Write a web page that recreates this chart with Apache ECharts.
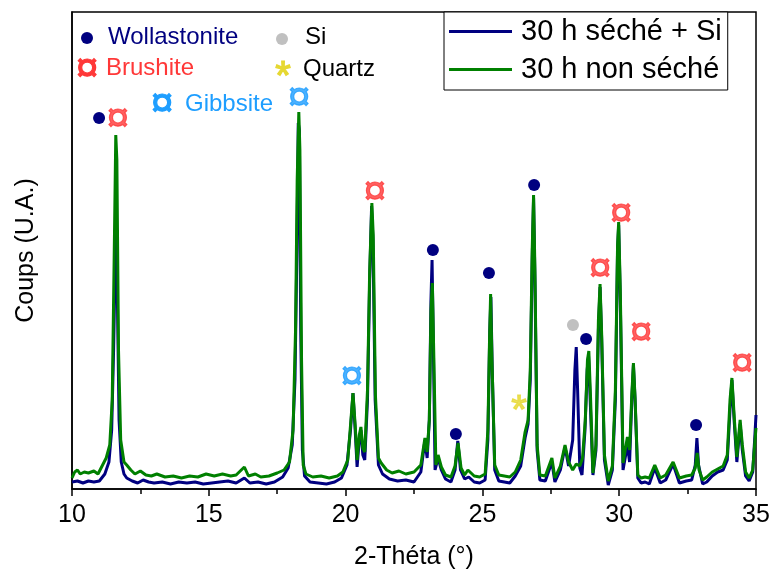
<!DOCTYPE html>
<html>
<head>
<meta charset="utf-8">
<script src="https://cdn.jsdelivr.net/npm/echarts@6/dist/echarts.min.js"></script>
<style>html,body{margin:0;padding:0;background:#fff}#c{width:773px;height:576px}</style>
</head>
<body>
<div id="c"></div>
<script>
// 2-Theta (deg), intensity (arbitrary units)
const seche = [
[10.0,7],[10.2,8],[10.4,6],[10.6,8],[10.8,7],[11.0,8],[11.2,15],[11.35,27],[11.45,59],[11.52,139],[11.58,229],[11.62,264],[11.66,189],[11.72,69],[11.8,27],[11.9,15],[12.0,11],[12.2,8],[12.4,6],[12.6,9],[12.8,7],[13.0,6],[13.3,7],[13.6,5],[13.9,7],[14.2,6],[14.5,7],[14.8,5],[15.1,6],[15.4,7],[15.7,8],[16.0,6],[16.3,11],[16.5,6],[16.8,7],[17.1,5],[17.4,7],[17.7,12],[17.9,21],[18.05,44],[18.15,109],[18.22,239],[18.27,366],[18.31,359],[18.36,159],[18.42,39],[18.5,13],[18.7,7],[19.0,6],[19.3,5],[19.6,7],[19.85,11],[20.05,24],[20.18,59],[20.27,96],[20.35,59],[20.42,22],[20.5,49],[20.56,59],[20.63,34],[20.7,29],[20.8,89],[20.88,209],[20.95,283],[21.0,249],[21.08,89],[21.2,24],[21.35,15],[21.6,10],[21.9,8],[22.2,9],[22.5,7],[22.75,17],[22.9,49],[22.98,31],[23.06,69],[23.12,189],[23.16,229],[23.2,159],[23.27,19],[23.38,31],[23.5,19],[23.65,10],[23.85,7],[24.0,19],[24.1,48],[24.2,19],[24.35,10],[24.5,12],[24.7,7],[24.9,6],[25.1,9],[25.2,49],[25.27,159],[25.31,192],[25.36,119],[25.45,19],[25.6,8],[25.8,7],[26.0,6],[26.2,13],[26.4,23],[26.56,51],[26.67,65],[26.75,109],[26.82,229],[26.87,291],[26.92,209],[27.0,39],[27.1,9],[27.3,8],[27.54,27],[27.65,7],[27.85,19],[28.02,42],[28.15,23],[28.3,49],[28.38,119],[28.43,142],[28.48,99],[28.56,21],[28.64,14],[28.75,59],[28.83,119],[28.88,133],[28.94,89],[29.04,14],[29.15,39],[29.24,159],[29.3,202],[29.36,149],[29.46,29],[29.6,4],[29.75,19],[29.86,89],[29.94,239],[29.98,264],[30.04,189],[30.14,19],[30.3,44],[30.38,27],[30.46,89],[30.52,124],[30.58,89],[30.68,11],[30.8,6],[30.95,7],[31.1,5],[31.3,21],[31.5,6],[31.7,9],[31.97,25],[32.2,6],[32.45,8],[32.65,9],[32.78,24],[32.84,51],[32.9,24],[33.05,5],[33.2,7],[33.4,13],[33.6,17],[33.8,19],[33.95,29],[34.05,79],[34.12,109],[34.2,69],[34.3,27],[34.42,65],[34.5,39],[34.62,13],[34.75,8],[34.88,17],[34.95,49],[35.0,74]
];
const nonSeche = [
[10.0,11],[10.1,17],[10.2,19],[10.3,15],[10.45,17],[10.6,16],[10.8,18],[10.95,15],[11.1,23],[11.25,31],[11.38,44],[11.47,89],[11.54,229],[11.6,354],[11.64,329],[11.7,139],[11.78,49],[11.9,27],[12.0,24],[12.15,19],[12.3,15],[12.5,18],[12.7,14],[12.9,13],[13.1,15],[13.4,12],[13.7,13],[14.0,11],[14.3,13],[14.6,12],[14.9,15],[15.2,13],[15.5,15],[15.8,13],[16.0,14],[16.3,22],[16.45,13],[16.7,15],[16.9,12],[17.2,13],[17.5,16],[17.75,19],[17.95,27],[18.08,59],[18.17,159],[18.23,309],[18.29,377],[18.33,339],[18.39,129],[18.45,24],[18.55,15],[18.8,12],[19.1,13],[19.4,11],[19.7,13],[19.9,17],[20.08,29],[20.18,64],[20.27,96],[20.35,64],[20.42,29],[20.5,54],[20.56,62],[20.63,41],[20.7,37],[20.8,99],[20.88,219],[20.96,286],[21.01,254],[21.09,94],[21.2,31],[21.3,26],[21.5,19],[21.7,16],[21.95,18],[22.2,15],[22.5,17],[22.75,24],[22.9,51],[22.98,37],[23.06,69],[23.12,179],[23.17,206],[23.22,139],[23.3,24],[23.38,34],[23.5,22],[23.65,14],[23.85,12],[24.0,23],[24.11,46],[24.22,21],[24.35,14],[24.47,19],[24.7,13],[24.9,12],[25.1,15],[25.2,59],[25.26,149],[25.3,195],[25.35,129],[25.45,24],[25.6,14],[25.8,13],[26.0,12],[26.2,17],[26.4,29],[26.56,57],[26.67,69],[26.75,119],[26.82,239],[26.87,294],[26.92,219],[27.0,44],[27.1,14],[27.3,13],[27.54,31],[27.65,11],[27.85,23],[28.02,44],[28.15,27],[28.3,19],[28.43,25],[28.56,23],[28.66,31],[28.76,69],[28.84,129],[28.89,138],[28.95,94],[29.04,16],[29.15,44],[29.24,169],[29.3,205],[29.36,154],[29.46,34],[29.6,8],[29.75,23],[29.86,99],[29.94,244],[29.98,267],[30.04,199],[30.14,26],[30.3,52],[30.38,39],[30.46,94],[30.52,126],[30.58,91],[30.68,14],[30.8,11],[30.95,12],[31.1,11],[31.3,24],[31.5,11],[31.7,14],[31.97,27],[32.2,11],[32.45,13],[32.65,14],[32.78,21],[32.85,36],[32.92,19],[33.05,9],[33.2,12],[33.4,17],[33.6,20],[33.8,23],[33.95,34],[34.05,89],[34.12,111],[34.2,74],[34.3,32],[34.42,69],[34.5,44],[34.62,17],[34.75,11],[34.88,19],[34.95,44],[35.0,61]
];
// phase markers (2-Theta, height where drawn)
const wollastonite = [[10.99,371],[23.19,239],[24.03,55],[25.24,216],[26.89,304],[28.79,150],[32.81,64]];
const brushite = [[11.68,371],[21.07,298],[29.3,221],[30.07,276],[30.8,157],[34.49,126]];
const gibbsite = [[18.3,392],[20.23,113]];
const silicium = [[28.31,164]];
const quartz = [[26.34,86]];
const seriesNames = ['30 h séché + Si', '30 h non séché'];
const xTicks = [10, 15, 20, 25, 30, 35];

const FONT = 'Liberation Sans, Arial, sans-serif';
const NAVY = '#000080', GREEN = '#008000', RED = '#FF3838', BLUE = '#1E9EFF', GRAY = '#C0C0C0', YEL = '#E6D832';
const CUR = 40, STAR = 40;

function textMarks(name, data, ch, color, size, dy) {
  return {
    name: name, type: 'scatter', data: data, symbolSize: 1, silent: true,
    itemStyle: {color: 'rgba(0,0,0,0)'}, z: 5,
    label: {show: true, position: 'inside', formatter: ch, color: color,
      textBorderColor: color, textBorderWidth: 1.2,
      fontSize: size, fontWeight: 'normal', fontFamily: FONT, offset: [0, dy || 0]}
  };
}
function keyGlyph(x, y, ch, color, size) {
  return {type: 'text', x: x, y: y, style: {text: ch, fill: color, stroke: color, lineWidth: 1.2,
    font: size + 'px ' + FONT, align: 'center', verticalAlign: 'middle'}};
}

const chart = echarts.init(document.getElementById('c'));
chart.setOption({
  animation: false,
  grid: {left: 72, right: 17, top: 12, bottom: 87, show: true, borderColor: '#000', borderWidth: 1.5},
  xAxis: {
    type: 'value', min: xTicks[0], max: xTicks[xTicks.length-1], interval: 5,
    axisLine: {show: true, lineStyle: {color: '#000', width: 1.5}},
    axisTick: {show: true, length: 7, lineStyle: {color: '#000', width: 1.5}},
    minorTick: {show: true, splitNumber: 2, length: 5, lineStyle: {color: '#000', width: 1.5}},
    splitLine: {show: false},
    axisLabel: {color: '#000', fontSize: 25, fontFamily: FONT, margin: 14},
    name: '2-Théta (°)', nameLocation: 'middle', nameGap: 56,
    nameTextStyle: {color: '#000', fontSize: 25, fontFamily: FONT}
  },
  yAxis: {
    type: 'value', min: 0, max: 477,
    axisLine: {show: true, lineStyle: {color: '#000', width: 1.5}},
    axisTick: {show: false}, axisLabel: {show: false}, splitLine: {show: false},
    name: 'Coups (U.A.)', nameLocation: 'middle', nameGap: 33,
    nameTextStyle: {color: '#000', fontSize: 25, fontFamily: FONT}
  },
  legend: {
    data: seriesNames, orient: 'vertical', left: 444, top: 12,
    backgroundColor: '#fff', borderColor: '#000', borderWidth: 1,
    padding: [5, 6, 6, 5], itemGap: 9, itemWidth: 63, itemHeight: 3, icon: 'rect',
    textStyle: {color: '#000', fontSize: 29, fontFamily: FONT, padding: [0, 0, 0, 4]}
  },
  series: [
    {name: seriesNames[0], type: 'line', data: seche, symbol: 'none', color: NAVY,
     lineStyle: {color: NAVY, width: 3}, z: 2},
    {name: seriesNames[1], type: 'line', data: nonSeche, symbol: 'none', color: GREEN,
     lineStyle: {color: GREEN, width: 3}, z: 3},
    {name: 'Wollastonite', type: 'scatter', data: wollastonite, symbol: 'circle', symbolSize: 12,
     itemStyle: {color: NAVY, opacity: 1}, z: 5},
    {name: 'Si', type: 'scatter', data: silicium, symbol: 'circle', symbolSize: 12,
     itemStyle: {color: GRAY, opacity: 1}, z: 5},
    textMarks('Brushite', brushite, '¤', RED, CUR, 2),
    textMarks('Gibbsite', gibbsite, '¤', BLUE, CUR, 2),
    textMarks('Quartz', quartz, '*', YEL, STAR, 9)
  ],
  graphic: [
    {type: 'circle', shape: {cx: 87, cy: 38, r: 6}, style: {fill: NAVY}},
    {type: 'text', x: 108, y: 37, style: {text: 'Wollastonite', fill: NAVY, font: '24px ' + FONT, verticalAlign: 'middle'}},
    keyGlyph(87, 70, '¤', RED, CUR),
    {type: 'text', x: 106, y: 68, style: {text: 'Brushite', fill: RED, font: '24px ' + FONT, verticalAlign: 'middle'}},
    {type: 'circle', shape: {cx: 282, cy: 39, r: 6}, style: {fill: GRAY}},
    {type: 'text', x: 305, y: 37, style: {text: 'Si', fill: '#000', font: '24px ' + FONT, verticalAlign: 'middle'}},
    keyGlyph(283, 78, '*', YEL, STAR),
    {type: 'text', x: 303, y: 69, style: {text: 'Quartz', fill: '#000', font: '24px ' + FONT, verticalAlign: 'middle'}},
    keyGlyph(162, 105, '¤', BLUE, CUR),
    {type: 'text', x: 185, y: 104, style: {text: 'Gibbsite', fill: BLUE, font: '24px ' + FONT, verticalAlign: 'middle'}}
  ]
});
</script>
</body>
</html>
